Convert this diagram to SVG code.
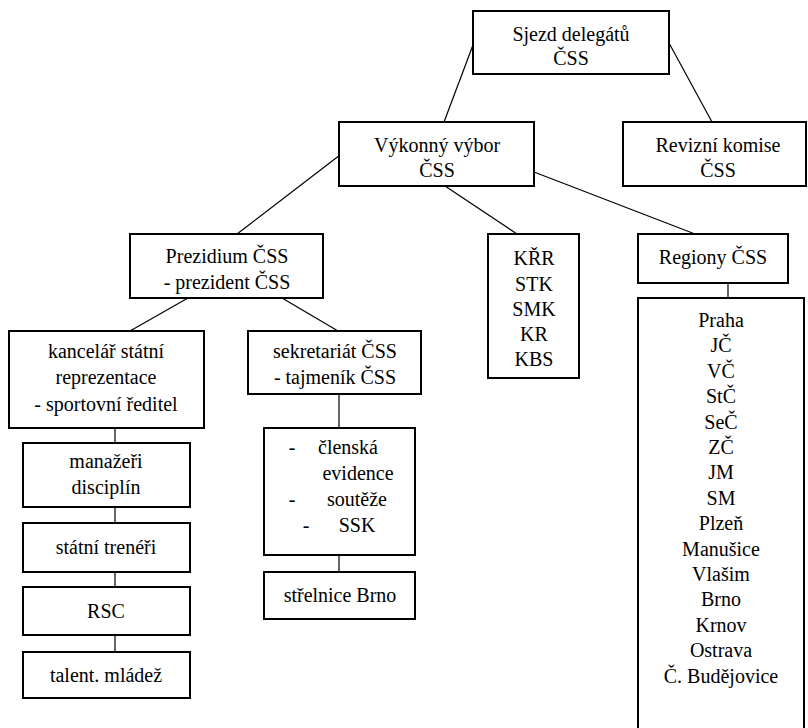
<svg xmlns="http://www.w3.org/2000/svg" width="808" height="728" viewBox="0 0 808 728">
<style>
  rect.box { fill: #fff; stroke: #000; stroke-width: 2; }
  text { font-family: 'Liberation Serif', 'DejaVu Serif', serif; font-size: 20px; fill: #000; text-anchor: middle; }
  #connectors line { stroke: #000; stroke-width: 1.2; }
</style>
<rect width="808" height="728" fill="#fff"/>
<g id="connectors">
  <line x1="473" y1="45" x2="444" y2="122"/>
  <line x1="669" y1="43" x2="712" y2="122"/>
  <line x1="340" y1="155" x2="237" y2="234"/>
  <line x1="445" y1="186" x2="517" y2="234"/>
  <line x1="534" y1="172" x2="695" y2="234"/>
  <line x1="188" y1="298" x2="130" y2="331"/>
  <line x1="282" y1="298" x2="338" y2="331"/>
  <line x1="339" y1="394" x2="339" y2="428"/>
  <line x1="339" y1="555" x2="339" y2="572"/>
  <line x1="115" y1="428" x2="115" y2="443"/>
  <line x1="115" y1="507" x2="115" y2="523"/>
  <line x1="115" y1="572" x2="115" y2="587"/>
  <line x1="115" y1="635" x2="115" y2="652"/>
  <line x1="728" y1="283" x2="728" y2="298"/>
</g>
<g id="sjezd">
  <rect class="box" x="473" y="11" width="196" height="63"/>
  <text x="571" y="41">Sjezd delegátů</text>
  <text x="571" y="65">ČSS</text>
</g>
<g id="vykonny">
  <rect class="box" x="339" y="122" width="195" height="64"/>
  <text x="437" y="152">Výkonný výbor</text>
  <text x="437" y="177">ČSS</text>
</g>
<g id="revizni">
  <rect class="box" x="623" y="122" width="183" height="64"/>
  <text x="718" y="152">Revizní komise</text>
  <text x="718" y="177">ČSS</text>
</g>
<g id="prezidium">
  <rect class="box" x="130" y="234" width="193" height="64"/>
  <text x="227" y="263">Prezidium ČSS</text>
  <text x="227" y="289">- prezident ČSS</text>
</g>
<g id="komise">
  <rect class="box" x="488" y="234" width="91" height="144"/>
  <text x="534" y="265">KŘR</text>
  <text x="534" y="291">STK</text>
  <text x="534" y="316">SMK</text>
  <text x="534" y="341">KR</text>
  <text x="534" y="366">KBS</text>
</g>
<g id="regiony">
  <rect class="box" x="638" y="234" width="150" height="49"/>
  <text x="713" y="264">Regiony ČSS</text>
</g>
<g id="regiony-seznam">
  <rect class="box" x="638" y="298" width="166" height="440"/>
  <text x="721" y="327">Praha</text>
  <text x="721" y="352">JČ</text>
  <text x="721" y="378">VČ</text>
  <text x="721" y="403">StČ</text>
  <text x="721" y="429">SeČ</text>
  <text x="721" y="454">ZČ</text>
  <text x="721" y="479">JM</text>
  <text x="721" y="505">SM</text>
  <text x="721" y="530">Plzeň</text>
  <text x="721" y="556">Manušice</text>
  <text x="721" y="581">Vlašim</text>
  <text x="721" y="606">Brno</text>
  <text x="721" y="632">Krnov</text>
  <text x="721" y="657">Ostrava</text>
  <text x="721" y="683">Č. Budějovice</text>
</g>
<g id="kancelar">
  <rect class="box" x="9" y="331" width="195" height="97"/>
  <text x="106" y="358">kancelář státní</text>
  <text x="106" y="384">reprezentace</text>
  <text x="106" y="411">- sportovní ředitel</text>
</g>
<g id="sekretariat">
  <rect class="box" x="248" y="331" width="173" height="63"/>
  <text x="335" y="358">sekretariát ČSS</text>
  <text x="335" y="384">- tajmeník ČSS</text>
</g>
<g id="agenda">
  <rect class="box" x="264" y="428" width="151" height="127"/>
  <text x="292" y="454">-</text>
  <text x="348" y="454">členská</text>
  <text x="358" y="480">evidence</text>
  <text x="292" y="506">-</text>
  <text x="357" y="506">soutěže</text>
  <text x="306" y="532">-</text>
  <text x="357" y="532">SSK</text>
</g>
<g id="strelnice">
  <rect class="box" x="264" y="572" width="151" height="47"/>
  <text x="340" y="602">střelnice Brno</text>
</g>
<g id="manazeri">
  <rect class="box" x="23" y="443" width="167" height="64"/>
  <text x="106" y="468">manažeři</text>
  <text x="106" y="494">disciplín</text>
</g>
<g id="treneri">
  <rect class="box" x="23" y="523" width="167" height="49"/>
  <text x="106" y="554">státní trenéři</text>
</g>
<g id="rsc">
  <rect class="box" x="23" y="587" width="167" height="48"/>
  <text x="106" y="618">RSC</text>
</g>
<g id="talent">
  <rect class="box" x="23" y="652" width="167" height="46"/>
  <text x="106" y="682">talent. mládež</text>
</g>
</svg>
